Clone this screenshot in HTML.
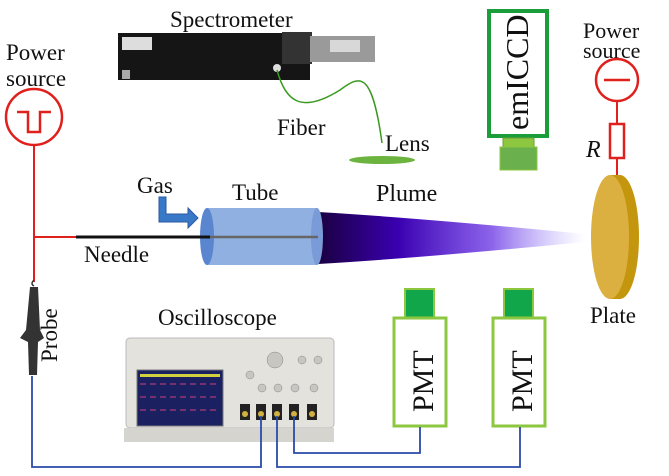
<!DOCTYPE html>
<html><head><meta charset="utf-8"><style>
html,body{margin:0;padding:0;background:#fff}
svg{display:block}
svg text{font-family:"Liberation Serif","Times New Roman","DejaVu Serif",serif}
</style></head><body>
<svg width="669" height="476" viewBox="0 0 669 476" xmlns="http://www.w3.org/2000/svg" fill="#111">
<defs>
<linearGradient id="pl" x1="0" x2="1" y1="0" y2="0">
<stop offset="0" stop-color="#1a0040"/>
<stop offset="0.3" stop-color="#3a00b0"/>
<stop offset="0.65" stop-color="#5a20e0" stop-opacity="0.7"/>
<stop offset="1" stop-color="#9080ff" stop-opacity="0"/>
</linearGradient>
<radialGradient id="plr" cx="0.1" cy="0.5" r="0.9">
<stop offset="0" stop-color="#000" stop-opacity="0.8"/>
<stop offset="0.4" stop-color="#000" stop-opacity="0"/>
</radialGradient>
</defs>
<text transform="translate(6,60)" font-size="23">Power</text>
<text transform="translate(6,86)" font-size="23">source</text>
<circle cx="34" cy="117" r="28" fill="none" stroke="#e0201c" stroke-width="2.5"/>
<path d="M17 112 H28 V132 H40 V112 H51" fill="none" stroke="#e0201c" stroke-width="2.5"/>
<path d="M34 145 V282 M34 237 H76" stroke="#e0201c" stroke-width="2" fill="none"/>
<text transform="translate(170,27)" font-size="23">Spectrometer</text>
<rect x="118" y="33" width="192" height="47" fill="#151515"/>
<rect x="122" y="37" width="30" height="13" fill="#ddd"/>
<rect x="122" y="70" width="8" height="9" fill="#aaa"/>
<rect x="282" y="32" width="30" height="32" fill="#333"/>
<rect x="310" y="36" width="65" height="26" fill="#9a9a9a"/>
<rect x="330" y="40" width="30" height="12" fill="#d8d8d8"/>
<circle cx="277" cy="68" r="4" fill="#ddd"/>
<path d="M277 70 C285 100 300 115 340 90 C360 75 372 70 382 143" fill="none" stroke="#3a9a20" stroke-width="1.5"/>
<text transform="translate(277,135)" font-size="23">Fiber</text>
<text transform="translate(385,151)" font-size="23">Lens</text>
<ellipse cx="382" cy="160" rx="33" ry="4" fill="#6cb33f"/>
<rect x="489" y="11" width="58" height="125" fill="#fff" stroke="#1a9e3a" stroke-width="4"/>
<text transform="translate(528,130) rotate(-90)" font-size="32">emICCD</text>
<rect x="503" y="138" width="31" height="9" fill="#8dc63f" stroke="#6aa030"/>
<rect x="500" y="147" width="37" height="23" fill="#6ab04c" stroke="#8dc63f"/>
<text transform="translate(583,38)" font-size="22">Power</text>
<text transform="translate(583,58)" font-size="22">source</text>
<circle cx="617" cy="80" r="21" fill="none" stroke="#e0201c" stroke-width="2.5"/>
<path d="M604 80 H630" stroke="#e0201c" stroke-width="2.5"/>
<path d="M617 101 V124 M617 158 V176" stroke="#e0201c" stroke-width="2"/>
<rect x="610" y="124" width="14" height="34" fill="#fff" stroke="#e0201c" stroke-width="2.5"/>
<text transform="translate(586,157)" font-size="24" font-style="italic">R</text>
<ellipse cx="620" cy="237" rx="19" ry="62" fill="#c4960e"/>
<rect x="610" y="175" width="10" height="124" fill="#c4960e"/>
<ellipse cx="610" cy="237" rx="19" ry="62" fill="#dcb040"/>
<text transform="translate(590,323)" font-size="23">Plate</text>
<path d="M318 212 Q420 218 585 234 L585 242 Q420 258 318 264 Z" fill="url(#pl)"/>
<ellipse cx="330" cy="238" rx="50" ry="26" fill="url(#plr)"/>
<text transform="translate(376,201)" font-size="24">Plume</text>
<rect x="207" y="208" width="110" height="57" fill="#8fb0e0"/>
<ellipse cx="317" cy="236.5" rx="6" ry="28.5" fill="#7a9ad8"/>
<ellipse cx="207" cy="236.5" rx="7" ry="28.5" fill="#5a86d0"/>
<path d="M76 237 H210" stroke="#111" stroke-width="3"/>
<path d="M210 237 H318" stroke="#666" stroke-width="2.5"/>
<text transform="translate(232,200)" font-size="23">Tube</text>
<text transform="translate(137,193)" font-size="23">Gas</text>
<path d="M159 197 H166 V214 H188 V208 L198 218 L188 228 V222 H159 Z" fill="#3a78c8" stroke="#2a5aa0" stroke-width="1"/>
<text transform="translate(84,262)" font-size="23">Needle</text>
<path d="M34 280 q-4 4 0 6" fill="none" stroke="#333" stroke-width="1.5"/>
<path d="M30 287 H38 L40 330 L44 338 L38 342 L37 375 H29 L28 342 L20 338 L26 330 Z" fill="#333"/>
<text transform="translate(57,362) rotate(-90)" font-size="23">Probe</text>
<text transform="translate(158,325)" font-size="23">Oscilloscope</text>
<rect x="126" y="338" width="208" height="90" rx="4" fill="#e4e2dc" stroke="#bbb"/>
<rect x="124" y="428" width="210" height="14" fill="#d6d4ce"/>
<rect x="137" y="370" width="86" height="56" fill="#1a2060" stroke="#777"/>
<path d="M140 384 H220 M140 397 H220 M140 410 H220" stroke="#d04080" stroke-width="1" stroke-dasharray="6 4"/>
<rect x="140" y="374" width="80" height="3" fill="#d0d040"/>
<g fill="#c8c6c0" stroke="#888" stroke-width="0.5">
<circle cx="275" cy="360" r="8"/><circle cx="250" cy="375" r="4"/><circle cx="262" cy="388" r="4"/><circle cx="278" cy="388" r="4"/><circle cx="295" cy="388" r="4"/><circle cx="302" cy="360" r="4"/><circle cx="318" cy="360" r="4"/><circle cx="314" cy="388" r="4"/>
</g>
<g fill="#222"><rect x="240" y="404" width="10" height="16"/><rect x="256" y="404" width="10" height="16"/><rect x="272" y="404" width="10" height="16"/><rect x="289" y="404" width="10" height="16"/><rect x="307" y="404" width="10" height="16"/></g>
<g fill="#d4b040"><circle cx="245" cy="414" r="3"/><circle cx="261" cy="414" r="3"/><circle cx="277" cy="414" r="3"/><circle cx="294" cy="414" r="3"/><circle cx="312" cy="414" r="3"/></g>
<rect x="405" y="289" width="29" height="29" fill="#12a64a" stroke="#8dc63f" stroke-width="2"/>
<rect x="394" y="318" width="52" height="108" fill="#fff" stroke="#8dc63f" stroke-width="3"/>
<text transform="translate(433,412) rotate(-90)" font-size="30">PMT</text>
<rect x="504" y="289" width="29" height="29" fill="#12a64a" stroke="#8dc63f" stroke-width="2"/>
<rect x="493" y="318" width="52" height="108" fill="#fff" stroke="#8dc63f" stroke-width="3"/>
<text transform="translate(532,412) rotate(-90)" font-size="30">PMT</text>
<g fill="none" stroke="#2a4aa8" stroke-width="1.8">
<path d="M32 376 V467 H261 V416"/>
<path d="M277 416 V467 H520 V427"/>
<path d="M294 416 V453 H420 V427"/>
</g>
</svg>
</body></html>
